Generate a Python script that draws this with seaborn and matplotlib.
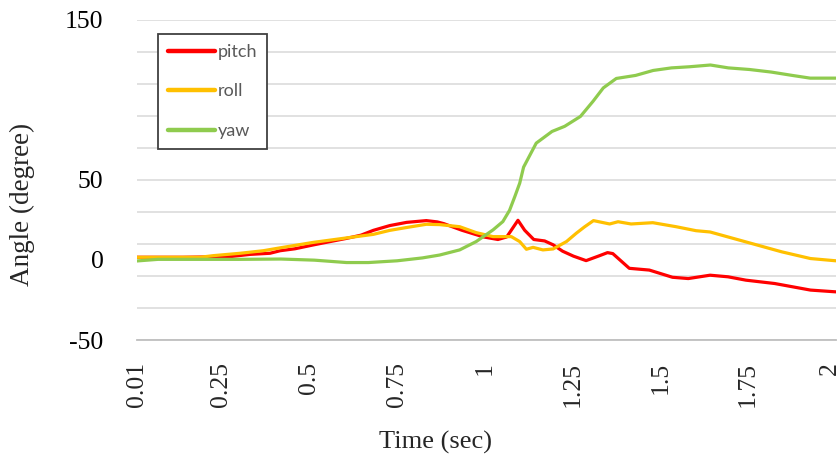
import numpy as np
import pandas as pd
import matplotlib
matplotlib.use("Agg")
import matplotlib.pyplot as plt
import matplotlib.transforms as mtransforms
import seaborn as sns

# Angle traces (time in sec, angle in degrees)
pitch_t = [0.01, 0.14, 0.275, 0.332, 0.389, 0.418, 0.46, 0.512, 0.56, 0.607, 0.648, 0.683,
           0.73, 0.778, 0.834, 0.865, 0.884, 0.935, 0.997, 1.038, 1.063, 1.095, 1.114, 1.14,
           1.171, 1.195, 1.222, 1.253, 1.289, 1.325, 1.35, 1.365, 1.412, 1.469, 1.535, 1.58,
           1.642, 1.693, 1.744, 1.826, 1.928, 2.0]
pitch_deg = [1.7, 1.7, 2.1, 3.5, 4.2, 5.8, 7.0, 9.4, 11.5, 13.5, 15.5, 18.5,
             21.5, 23.5, 24.6, 23.8, 22.7, 18.6, 14.4, 12.8, 14.4, 24.8, 18.6, 12.8,
             11.9, 9.5, 5.5, 2.4, -0.4, 2.5, 4.6, 4.0, -5.2, -6.3, -10.8, -11.6,
             -9.5, -10.5, -12.6, -14.7, -18.8, -19.9]

roll_t = [0.01, 0.19, 0.227, 0.304, 0.37, 0.418, 0.512, 0.607, 0.683, 0.73, 0.778, 0.834,
          0.872, 0.929, 0.976, 1.024, 1.076, 1.1, 1.119, 1.138, 1.166, 1.195, 1.233, 1.261,
          1.284, 1.31, 1.356, 1.38, 1.417, 1.479, 1.545, 1.602, 1.642, 1.744, 1.846, 1.928, 2.0]
roll_deg = [1.7, 1.7, 2.7, 4.2, 5.8, 7.6, 11.0, 13.8, 16.0, 18.5, 20.3, 22.3,
            22.1, 20.8, 17.1, 14.6, 14.6, 11.5, 6.7, 7.9, 6.3, 6.9, 11.5, 16.7,
            20.6, 24.6, 22.5, 23.9, 22.5, 23.3, 20.8, 18.3, 17.5, 11.3, 5.1, 0.9, -0.5]

yaw_t = [0.01, 0.07, 0.3, 0.42, 0.515, 0.607, 0.669, 0.751, 0.823, 0.872, 0.929, 0.976,
         1.024, 1.052, 1.071, 1.086, 1.1, 1.111, 1.147, 1.192, 1.228, 1.273, 1.309, 1.338,
         1.375, 1.43, 1.48, 1.532, 1.583, 1.643, 1.694, 1.754, 1.816, 1.876, 1.927, 2.0]
yaw_deg = [-0.6, 0.4, 0.4, 0.6, -0.1, -1.6, -1.6, -0.5, 1.3, 3.1, 6.3, 11.5,
           18.8, 24.0, 31.0, 39.6, 48.0, 58.0, 73.0, 80.3, 83.5, 89.7, 99.2, 107.5,
           113.4, 115.3, 118.4, 120.0, 120.7, 121.8, 120.0, 119.0, 117.4, 115.3, 113.6, 113.6]

x_ticks = [0.01, 0.25, 0.5, 0.75, 1, 1.25, 1.5, 1.75, 2]
x_labels = ["0.01", "0.25", "0.5", "0.75", "1", "1.25", "1.5", "1.75", "2"]
y_labels = ["-50", "0", "50", "150"]
y_label_pos = [-50, 0, 50, 150]

angles = pd.concat([
    pd.DataFrame({"time": pitch_t, "angle": pitch_deg, "axis": "pitch"}),
    pd.DataFrame({"time": roll_t, "angle": roll_deg, "axis": "roll"}),
    pd.DataFrame({"time": yaw_t, "angle": yaw_deg, "axis": "yaw"}),
])
colors = {"pitch": "#FF0000", "roll": "#FFC000", "yaw": "#8FCB4E"}

sns.set_theme(style="white")
plt.rcParams["font.family"] = ["Liberation Serif", "DejaVu Serif"]

fig = plt.figure(figsize=(8.4, 4.62), dpi=100)
ax = fig.add_axes([0.163, 0.264, 0.832, 0.693])

sns.lineplot(data=angles, x="time", y="angle", hue="axis", palette=colors,
             linewidth=2.3, ax=ax, legend=False, sort=False, estimator=None)

ax.set_xlim(0.01, 2.0)
ax.set_ylim(-50, 150)

# gridlines every 20, labels only at a few values (on minor ticks)
ax.yaxis.remove_overlapping_locs = False
ax.set_yticks(np.arange(-50, 151, 20))
ax.set_yticklabels([])
ax.set_yticks(y_label_pos, minor=True)
ax.set_yticklabels(y_labels, minor=True)
ax.tick_params(axis="y", which="both", length=0)
ax.tick_params(axis="y", which="minor", labelsize=18.5, pad=24, colors="black")
ax.yaxis.grid(True, which="major", color="#D9D9D9", linewidth=1.1)
ax.xaxis.grid(False)

ax.set_xticks(x_ticks)
ax.set_xticklabels(x_labels, rotation=90)
ax.tick_params(axis="x", direction="in", length=3, width=1, color="#BFBFBF",
               labelsize=18.5, pad=16)
# nudge the last label so it stays inside the canvas
last = ax.get_xticklabels()[-1]
last.set_transform(last.get_transform() + mtransforms.ScaledTranslation(-6 / 100, 0, fig.dpi_scale_trans))

for side in ["top", "right", "left"]:
    ax.spines[side].set_visible(False)
ax.spines["bottom"].set_color("#BFBFBF")
ax.spines["bottom"].set_linewidth(1.3)

ax.set_xlabel("")
ax.set_ylabel("")
fig.text(22 / 840, 1 - 204 / 462, "Angle (degree)", rotation=90, ha="center", va="center", fontsize=19.5)
fig.text(435 / 840, 1 - 442 / 462, "Time (sec)", ha="center", va="center", fontsize=19)

handles = [plt.Line2D([], [], color=colors[k], linewidth=3.2, solid_capstyle="round") for k in colors]
leg = ax.legend(handles, list(colors.keys()), loc="upper left", bbox_to_anchor=(0.030, 0.956),
                borderaxespad=0, frameon=True, fancybox=False, framealpha=1,
                edgecolor="#404040", handlelength=2.6, handletextpad=0.15,
                labelspacing=1.3, borderpad=0.55,
                prop={"family": "Lato", "size": 13})
leg.get_frame().set_linewidth(1.3)
for txt in leg.get_texts():
    txt.set_color("#595959")

fig.savefig("out.png", dpi=100)
